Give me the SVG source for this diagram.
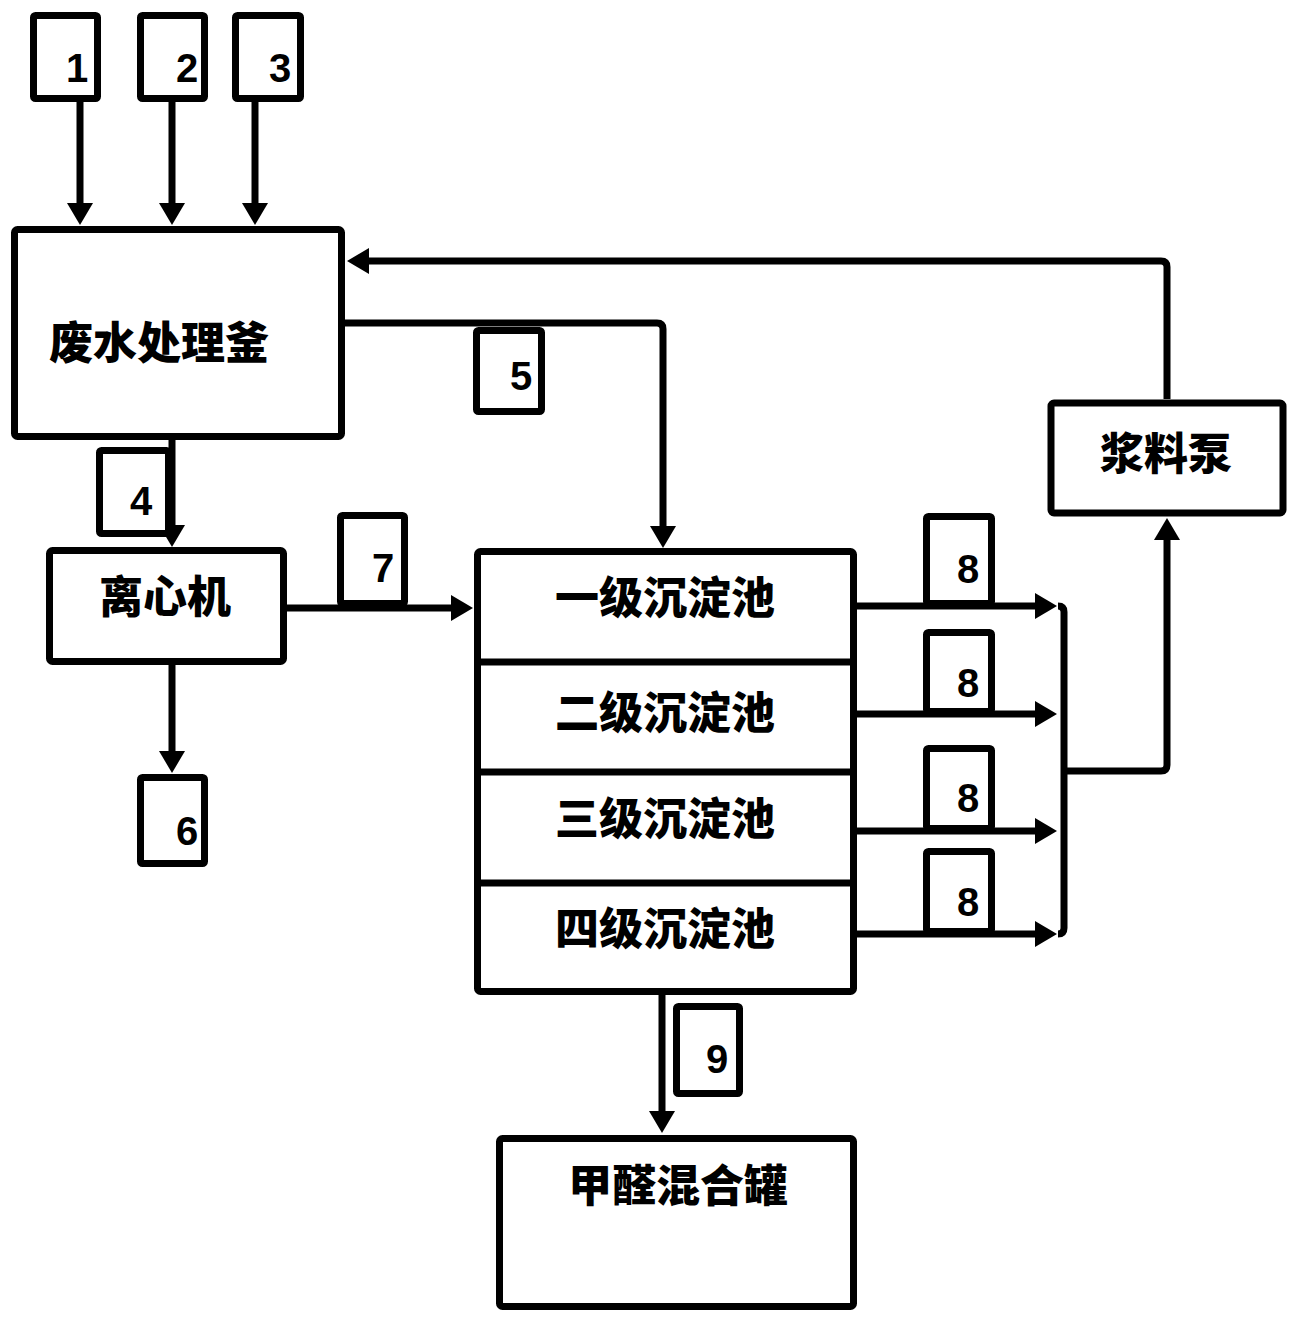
<svg xmlns="http://www.w3.org/2000/svg" width="1301" height="1320" viewBox="0 0 1301 1320">
<style>
.box{fill:#fff;stroke:#000;stroke-width:7;stroke-linejoin:round}
.ln{fill:none;stroke:#000;stroke-width:7;stroke-linejoin:round}
.cn{font-family:"Noto Sans CJK SC","Noto Sans CJK TC",sans-serif;font-weight:900;font-size:44px;text-anchor:middle;fill:#000}
.num{font-family:"Liberation Sans","DejaVu Sans",sans-serif;font-weight:bold;font-size:40px;text-anchor:middle;fill:#000}
</style>
<defs>
<marker id="ah" markerUnits="userSpaceOnUse" markerWidth="22" markerHeight="26" refX="12" refY="13" orient="auto">
<path d="M0,0 L22,13 L0,26 z" fill="#000"/>
</marker>
</defs>
<rect width="1301" height="1320" fill="#fff"/>

<g id="connectors">
<path class="ln" d="M80,102 V215" marker-end="url(#ah)"/>
<path class="ln" d="M172,102 V215" marker-end="url(#ah)"/>
<path class="ln" d="M255,102 V215" marker-end="url(#ah)"/>
<path class="ln" d="M172,440 V537" marker-end="url(#ah)"/>
<path class="ln" d="M172,665 V763" marker-end="url(#ah)"/>
<path class="ln" d="M287,608 H463" marker-end="url(#ah)"/>
<path class="ln" d="M345,323 H657 Q663,323 663,329 V538" marker-end="url(#ah)"/>
<path class="ln" d="M1167,399 V267 Q1167,261 1161,261 H357" marker-end="url(#ah)"/>
<path class="ln" d="M662,995 V1123" marker-end="url(#ah)"/>
<path class="ln" d="M857,606 H1047" marker-end="url(#ah)"/>
<path class="ln" d="M857,714 H1047" marker-end="url(#ah)"/>
<path class="ln" d="M857,831 H1047" marker-end="url(#ah)"/>
<path class="ln" d="M857,934 H1047" marker-end="url(#ah)"/>
<path class="ln" d="M1058,606 Q1064,606 1064,612 V928 Q1064,934 1058,934"/>
<path class="ln" d="M1064,771 H1161 Q1167,771 1167,765 V528" marker-end="url(#ah)"/>
</g>

<g id="n1"><rect class="box" x="33.5" y="15.5" width="64" height="83" rx="2"/><text class="num" x="77" y="82">1</text></g>
<g id="n2"><rect class="box" x="140.5" y="15.5" width="64" height="83" rx="2"/><text class="num" x="187" y="82">2</text></g>
<g id="n3"><rect class="box" x="235.5" y="15.5" width="65" height="83" rx="2"/><text class="num" x="280" y="82">3</text></g>

<g id="waste"><rect class="box" x="14.5" y="229.5" width="327" height="207" rx="3"/><text class="cn" x="159" y="359">废水处理釜</text></g>

<g id="n4"><rect class="box" x="99.5" y="450.5" width="69" height="83" rx="2"/><text class="num" x="141" y="515">4</text></g>
<g id="n5"><rect class="box" x="476.5" y="330.5" width="65" height="81" rx="2"/><text class="num" x="521" y="390">5</text></g>

<g id="centrifuge"><rect class="box" x="49.5" y="550.5" width="234" height="111" rx="3"/><text class="cn" x="165" y="613">离心机</text></g>

<g id="n7"><rect class="box" x="340.5" y="515.5" width="64" height="88" rx="2"/><text class="num" x="383" y="582">7</text></g>
<g id="n6"><rect class="box" x="140.5" y="777.5" width="64" height="86" rx="2"/><text class="num" x="187" y="845">6</text></g>

<g id="settling">
<rect class="box" x="477.5" y="551.5" width="376" height="440" rx="3"/>
<path class="ln" d="M477,662 H854 M477,772 H854 M477,883 H854"/>
<text class="cn" x="665" y="614">一级沉淀池</text>
<text class="cn" x="665" y="729">二级沉淀池</text>
<text class="cn" x="665" y="835">三级沉淀池</text>
<text class="cn" x="665" y="945">四级沉淀池</text>
</g>

<g id="n8a"><rect class="box" x="926.5" y="516.5" width="65" height="87" rx="2"/><text class="num" x="968" y="583">8</text></g>
<g id="n8b"><rect class="box" x="926.5" y="632.5" width="65" height="79" rx="2"/><text class="num" x="968" y="697">8</text></g>
<g id="n8c"><rect class="box" x="926.5" y="748.5" width="65" height="80" rx="2"/><text class="num" x="968" y="812">8</text></g>
<g id="n8d"><rect class="box" x="926.5" y="851.5" width="65" height="80" rx="2"/><text class="num" x="968" y="916">8</text></g>

<g id="pump"><rect class="box" x="1051" y="403" width="232" height="110" rx="3"/><text class="cn" x="1166" y="470">浆料泵</text></g>

<g id="n9"><rect class="box" x="676.5" y="1006.5" width="63" height="87" rx="2"/><text class="num" x="717" y="1073">9</text></g>

<g id="tank"><rect class="box" x="499.5" y="1138.5" width="354" height="168" rx="3"/><text class="cn" x="678" y="1202">甲醛混合罐</text></g>
</svg>
